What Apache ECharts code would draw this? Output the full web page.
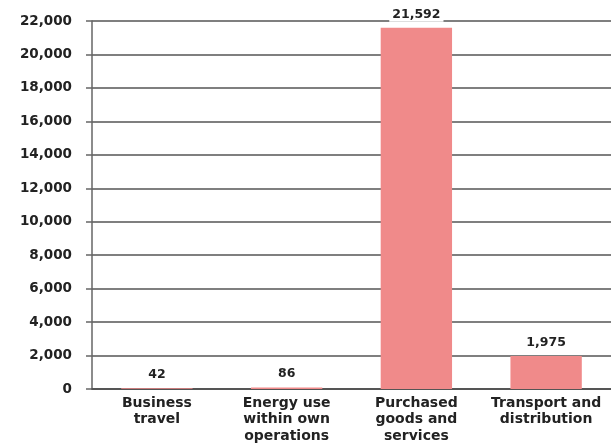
<!DOCTYPE html>
<html><head><meta charset="utf-8">
<script src="https://cdn.jsdelivr.net/npm/echarts@6/dist/echarts.min.js"></script>
<style>html,body{margin:0;padding:0;background:#fff}#c{width:611px;height:448px}</style>
</head><body><div id="c"></div>
<script>
const categories = ['Business\ntravel', 'Energy use\nwithin own\noperations', 'Purchased\ngoods and\nservices', 'Transport and\ndistribution'];
const values = [42, 86, 21592, 1975];
const yTicks = [0, 2000, 4000, 6000, 8000, 10000, 12000, 14000, 16000, 18000, 20000, 22000];

const chart = echarts.init(document.getElementById('c'));
const font = 'DejaVu Sans';
chart.setOption({
  animation: false,
  grid: {left: 92, right: 0, top: 21, bottom: 59},
  xAxis: {
    type: 'category', data: categories,
    axisLine: {lineStyle: {color: '#555', width: 2}},
    axisTick: {show: false},
    axisLabel: {color: '#222', fontFamily: font, fontWeight: 'bold', fontSize: 14, lineHeight: 16.5, margin: 6, interval: 0}
  },
  yAxis: {
    type: 'value', min: yTicks[0], max: yTicks[yTicks.length - 1], interval: 2000,
    axisLine: {show: true, lineStyle: {color: '#666', width: 1.5}},
    axisTick: {show: true, length: 6, lineStyle: {color: '#666', width: 1.5}},
    splitLine: {lineStyle: {color: '#555', width: 1.5}},
    axisLabel: {color: '#222', fontFamily: font, fontWeight: 'bold', fontSize: 13.5, margin: 20,
      formatter: v => v.toLocaleString('en-US')}
  },
  series: [{
    type: 'bar', data: values, barWidth: '55%',
    itemStyle: {color: '#f08a8a'},
    label: {show: true, position: 'top', distance: 6, color: '#222', fontFamily: font, fontWeight: 'bold', fontSize: 12.5,
      backgroundColor: '#fff', padding: [1, 3],
      formatter: p => p.value.toLocaleString('en-US')}
  }]
});
</script></body></html>
